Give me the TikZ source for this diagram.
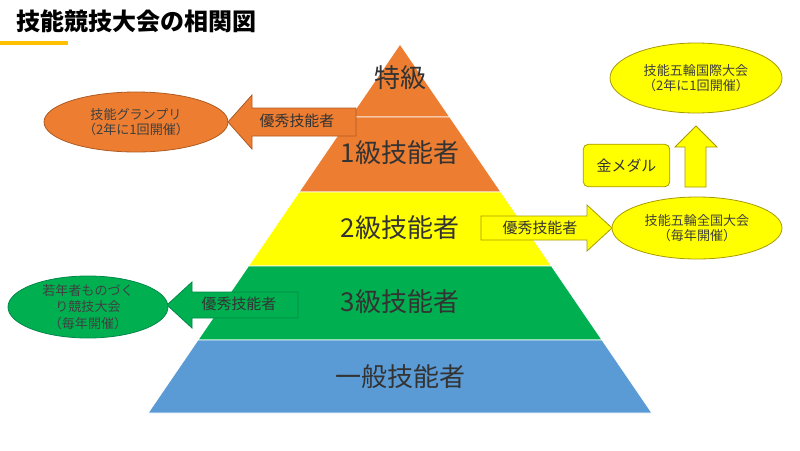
\documentclass[tikz,border=0pt]{standalone}
\usepackage{fontspec}
\setmainfont{Noto Sans CJK JP}
\usetikzlibrary{shapes.geometric}

\definecolor{kOrange}{HTML}{ED7D31}
\definecolor{kOrangeLine}{HTML}{AE5A21}
\definecolor{kYellow}{HTML}{FFFF00}
\definecolor{kYellowLine}{HTML}{A89A00}
\definecolor{kGreen}{HTML}{00B050}
\definecolor{kGreenLine}{HTML}{00874A}
\definecolor{kBlue}{HTML}{5B9BD5}
\definecolor{kGold}{HTML}{FFC000}

\begin{document}
\begin{tikzpicture}[x=0.75pt, y=-0.75pt,
  lvl/.style={font=\fontsize{19.5}{21}\selectfont, text=black!80},
  tag/.style={font=\fontsize{11.2}{13}\selectfont, text=black!80},
  note/.style={font=\fontsize{9.8}{11.6}\selectfont, align=center, text=black!75},
  orangeshape/.style={fill=kOrange, draw=kOrangeLine, line width=0.6pt},
  yellowshape/.style={fill=kYellow, draw=kYellowLine, line width=0.6pt},
  greenshape/.style={fill=kGreen, draw=kGreenLine, line width=0.6pt}]
  \useasboundingbox (0,0) rectangle (800,450);

  % タイトル
  \node[anchor=west, font=\bfseries\fontsize{18}{20}\selectfont] (title) at (12,21) {技能競技大会の相関図};
  \fill[kGold] (0,41) rectangle (68,45);

  % ピラミッド
  \foreach \ya/\yb/\col in {44/117/kOrange, 117/192/kOrange, 192/266/kYellow, 266/340/kGreen, 340/413/kBlue} {
    \filldraw[fill=\col, draw=white, line width=0.7pt]
      ({400-252/369*(\ya-44)},\ya) -- ({400+252/369*(\ya-44)},\ya) --
      ({400+252/369*(\yb-44)},\yb) -- ({400-252/369*(\yb-44)},\yb) -- cycle;
  }
  \node[lvl] (toku) at (400,78) {特級};
  \node[lvl] (ikkyu) at (400,153) {1級技能者};
  \node[lvl] (nikyu) at (400,228) {2級技能者};
  \node[lvl] (sankyu) at (400,302) {3級技能者};
  \node[lvl] (ippan) at (400,377) {一般技能者};

  % 技能グランプリ
  \draw[orangeshape] (136,122) circle [x radius=92, y radius=30];
  \node[note] (grandprix) at (136,122) {技能グランプリ\\（2年に1回開催）};
  \draw[orangeshape] (356,108) -- (252,108) -- (252,95) -- (228,122) -- (252,149) -- (252,136) -- (356,136) -- cycle;
  \node[tag] (tagA) at (297,121) {優秀技能者};

  % 技能五輪全国大会
  \draw[yellowshape] (481,216) -- (587,216) -- (587,205) -- (612,228) -- (587,251) -- (587,240) -- (481,240) -- cycle;
  \node[tag] (tagB) at (540,228) {優秀技能者};
  \draw[yellowshape] (697,228) circle [x radius=85, y radius=31];
  \node[note] (national) at (697,228) {技能五輪全国大会\\（毎年開催）};

  % 技能五輪国際大会
  \draw[yellowshape] (685,187) -- (685,147) -- (675,147) -- (696,126) -- (717,147) -- (706,147) -- (706,187) -- cycle;
  \node[yellowshape, rectangle, rounded corners=4pt, minimum width=65pt, minimum height=32pt,
    font=\fontsize{11.2}{13}\selectfont, text=black!80] (medal) at (626.5,165.5) {金メダル};
  \draw[yellowshape] (696,78) circle [x radius=86, y radius=35];
  \node[note] (world) at (696,78) {技能五輪国際大会\\（2年に1回開催）};

  % 若年者ものづくり競技大会
  \draw[greenshape] (298,292) -- (192,292) -- (192,282) -- (167,305) -- (192,328) -- (192,318) -- (298,318) -- cycle;
  \node[tag] (tagC) at (239,304) {優秀技能者};
  \draw[greenshape] (88,307) circle [x radius=80, y radius=31];
  \node[note, font=\fontsize{9.8}{12.4}\selectfont] (youth) at (88,307) {若年者ものづく\\り競技大会\\（毎年開催）};
\end{tikzpicture}
\end{document}
